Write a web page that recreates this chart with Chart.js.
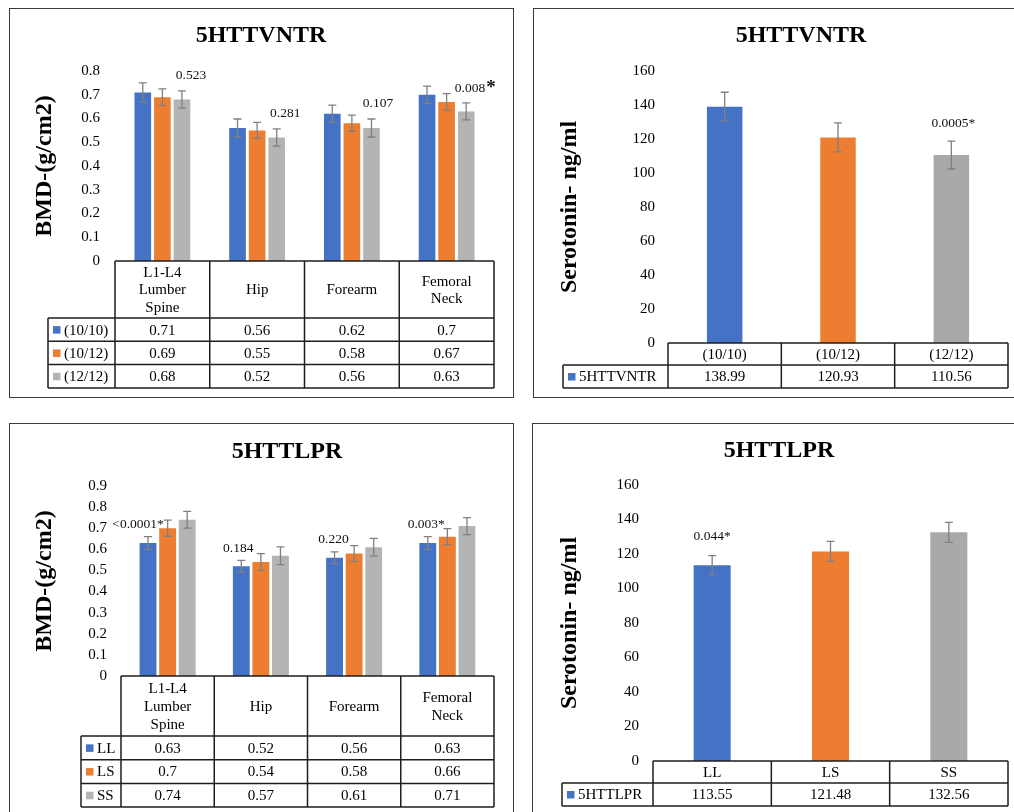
<!DOCTYPE html>
<html><head><meta charset="utf-8">
<script src="https://cdn.jsdelivr.net/npm/chart.js@4.4.1/dist/chart.umd.min.js"></script>
<style>
html,body{margin:0;padding:0;background:#fff}
body{width:1014px;height:812px;overflow:hidden;position:relative}
.panel{position:absolute;border:1.5px solid #3a3a3a;box-sizing:border-box}
canvas{position:absolute}
</style></head><body>
<div class="panel" style="left:9px;top:8px;width:505px;height:390px"></div>
<div class="panel" style="left:533px;top:8px;width:495px;height:390px"></div>
<div class="panel" style="left:9px;top:423px;width:505px;height:410px"></div>
<div class="panel" style="left:532px;top:423px;width:495px;height:410px"></div>
<canvas id="c1" width="502" height="387" style="left:10px;top:9px"></canvas>
<canvas id="c2" width="482" height="387" style="left:534px;top:9px"></canvas>
<canvas id="c3" width="502" height="388" style="left:10px;top:424px"></canvas>
<canvas id="c4" width="483" height="388" style="left:533px;top:424px"></canvas>
<script>
// ---------- data ----------
const boneSites = [['L1-L4', 'Lumber', 'Spine'], 'Hip', 'Forearm', ['Femoral', 'Neck']];
const bmdTicksVntr = [0, 0.1, 0.2, 0.3, 0.4, 0.5, 0.6, 0.7, 0.8];
const bmdTicksLpr = [0, 0.1, 0.2, 0.3, 0.4, 0.5, 0.6, 0.7, 0.8, 0.9];
const serotoninTicks = [0, 20, 40, 60, 80, 100, 120, 140, 160];

const vntrGenotypes = ['(10/10)', '(10/12)', '(12/12)'];
const bmdVntr1010 = [0.71, 0.56, 0.62, 0.7];
const bmdVntr1012 = [0.69, 0.55, 0.58, 0.67];
const bmdVntr1212 = [0.68, 0.52, 0.56, 0.63];
const bmdVntr1010Err = [0.04, 0.038, 0.036, 0.036];
const bmdVntr1012Err = [0.035, 0.034, 0.034, 0.035];
const bmdVntr1212Err = [0.036, 0.036, 0.038, 0.036];
const bmdVntrP = ['0.523', '0.281', '0.107', '0.008*'];

const serotoninVntr = [138.99, 120.93, 110.56];
const serotoninVntrErr = [8.5, 8.5, 8.2];
const serotoninVntrP = [null, null, '0.0005*'];

const lprGenotypes = ['LL', 'LS', 'SS'];
const bmdLprLL = [0.63, 0.52, 0.56, 0.63];
const bmdLprLS = [0.7, 0.54, 0.58, 0.66];
const bmdLprSS = [0.74, 0.57, 0.61, 0.71];
const bmdLprLLErr = [0.03, 0.028, 0.028, 0.03];
const bmdLprLSErr = [0.038, 0.04, 0.038, 0.038];
const bmdLprSSErr = [0.04, 0.042, 0.042, 0.04];
const bmdLprP = ['<0.0001*', '0.184', '0.220', '0.003*'];

const serotoninLpr = [113.55, 121.48, 132.56];
const serotoninLprErr = [5.5, 5.8, 5.8];
const serotoninLprP = ['0.044*', null, null];

// ---------- styling ----------
const SERIF = "'Times New Roman', 'Liberation Serif', serif";
const BLUE = '#4472C4', ORANGE = '#ED7D31', GRAY_LIGHT = '#B4B4B4', GRAY_DARK = '#AAA8A8';

// ---------- plugins ----------
const errorBarPlugin = {
  id: 'errorBars',
  afterDatasetsDraw(chart, args, o) {
    const ctx = chart.ctx, y = chart.scales.y;
    ctx.save();
    ctx.strokeStyle = o.color || '#7f7f7f';
    ctx.lineWidth = o.width || 1.3;
    const c = o.cap || 4;
    chart.data.datasets.forEach((ds, di) => {
      if (!ds.errors) return;
      chart.getDatasetMeta(di).data.forEach((bar, i) => {
        const v = ds.data[i], e = ds.errors[i];
        const yt = y.getPixelForValue(v + e), yb = y.getPixelForValue(v - e);
        ctx.beginPath();
        ctx.moveTo(bar.x, yt); ctx.lineTo(bar.x, yb);
        ctx.moveTo(bar.x - c, yt); ctx.lineTo(bar.x + c, yt);
        ctx.moveTo(bar.x - c, yb); ctx.lineTo(bar.x + c, yb);
        ctx.stroke();
      });
    });
    ctx.restore();
  }
};

const pValuePlugin = {
  id: 'pValues',
  afterDatasetsDraw(chart, args, o) {
    if (!o.texts) return;
    const ctx = chart.ctx, y = chart.scales.y;
    const di = o.datasetIndex;
    const ds = chart.data.datasets[di];
    const meta = chart.getDatasetMeta(di);
    const size = o.size || 13.5;
    ctx.save();
    ctx.fillStyle = '#111';
    o.texts.forEach((t, i) => {
      if (!t) return;
      const bar = meta.data[i];
      const top = y.getPixelForValue(ds.data[i] + ds.errors[i]);
      const cx = bar.x + (o.dx ? o.dx[i] : 0), cy = top - o.gap;
      if (o.largeStar && t.endsWith('*')) {
        const main = t.slice(0, -1);
        ctx.font = `${size}px ${SERIF}`;
        const w1 = ctx.measureText(main).width;
        ctx.font = `bold 19px ${SERIF}`;
        const w2 = ctx.measureText('*').width;
        const x0 = cx - (w1 + w2) / 2, bl = cy + size * 0.33;
        ctx.textAlign = 'left'; ctx.textBaseline = 'alphabetic';
        ctx.font = `${size}px ${SERIF}`;
        ctx.fillText(main, x0, bl);
        ctx.font = `bold 19px ${SERIF}`;
        ctx.fillText('*', x0 + w1 + 1, bl + 1);
      } else {
        ctx.font = `${size}px ${SERIF}`;
        ctx.textAlign = 'center'; ctx.textBaseline = 'middle';
        ctx.fillText(t, cx, cy);
      }
    });
    ctx.restore();
  }
};

const dataTablePlugin = {
  id: 'dataTable',
  afterDraw(chart, args, o) {
    const {ctx, chartArea: ca, scales: {x}} = chart;
    const labels = chart.data.labels, n = labels.length;
    const step = (x.right - x.left) / n;
    const cols = Array.from({length: n + 1}, (_, i) => x.left + i * step);
    const top = ca.bottom, hb = top + o.headerHeight;
    const dss = chart.data.datasets;
    const bottom = hb + dss.length * o.rowHeight;
    ctx.save();
    ctx.strokeStyle = '#1e1e1e';
    ctx.lineWidth = 1.5;
    ctx.beginPath();
    ctx.moveTo(x.left, top); ctx.lineTo(x.right, top);
    for (let r = 0; r <= dss.length; r++) {
      const yy = hb + r * o.rowHeight;
      ctx.moveTo(o.legendLeft, yy); ctx.lineTo(x.right, yy);
    }
    cols.forEach(cx => { ctx.moveTo(cx, top); ctx.lineTo(cx, bottom); });
    ctx.moveTo(o.legendLeft, hb); ctx.lineTo(o.legendLeft, bottom);
    ctx.stroke();
    ctx.font = `${o.fontSize}px ${SERIF}`;
    ctx.fillStyle = '#000';
    ctx.textBaseline = 'middle';
    ctx.textAlign = 'center';
    labels.forEach((lab, i) => {
      const lines = Array.isArray(lab) ? lab : [lab];
      const cx = (cols[i] + cols[i + 1]) / 2, cy = (top + hb) / 2 + 1;
      lines.forEach((ln, k) => ctx.fillText(ln, cx, cy + (k - (lines.length - 1) / 2) * o.lineHeight));
    });
    dss.forEach((ds, r) => {
      const cy = hb + (r + 0.5) * o.rowHeight + 1;
      const col = Array.isArray(ds.backgroundColor) ? ds.backgroundColor[0] : ds.backgroundColor;
      ctx.fillStyle = col;
      ctx.fillRect(o.legendLeft + 5, cy - 4.5, 7.5, 7.5);
      ctx.fillStyle = '#000';
      ctx.textAlign = 'left';
      ctx.fillText(ds.label, o.legendLeft + 16, cy);
      ctx.textAlign = 'center';
      ds.data.forEach((v, i) => ctx.fillText(String(v), (cols[i] + cols[i + 1]) / 2, cy));
    });
    ctx.restore();
  }
};

const panelTitlePlugin = {
  id: 'panelTitle',
  afterDraw(chart, args, o) {
    const ctx = chart.ctx;
    ctx.save();
    ctx.font = `bold 24px ${SERIF}`;
    ctx.fillStyle = '#000';
    ctx.textAlign = 'center'; ctx.textBaseline = 'middle';
    ctx.fillText(o.text, o.x, o.y);
    ctx.restore();
  }
};

Chart.register(errorBarPlugin, pValuePlugin, dataTablePlugin, panelTitlePlugin);

function yAxis(ticksArr, title, width, tickPad, titlePad) {
  return {
    min: ticksArr[0], max: ticksArr[ticksArr.length - 1],
    afterBuildTicks: s => { s.ticks = ticksArr.map(v => ({value: v})); },
    afterFit: s => { s.width = width; },
    grid: {display: false, drawTicks: false},
    border: {display: false},
    ticks: {color: '#000', font: {family: SERIF, size: 15}, padding: tickPad, callback: v => String(v)},
    title: {display: true, text: title, color: '#000', font: {family: SERIF, size: 24, weight: 'bold'}, padding: {top: titlePad, bottom: 0}}
  };
}
function xAxis(height) {
  return {
    grid: {display: false, drawTicks: false},
    border: {display: false},
    ticks: {display: false},
    afterFit: s => { s.height = height; }
  };
}
function build(id, data, opts) {
  return new Chart(document.getElementById(id), {
    type: 'bar',
    data,
    options: {
      responsive: false,
      animation: false,
      events: [],
      layout: {padding: opts.padding},
      datasets: {bar: {categoryPercentage: opts.catPct, barPercentage: opts.barPct}},
      scales: {x: xAxis(opts.xHeight), y: yAxis(opts.ticks, opts.yTitle, opts.yWidth, opts.tickPad, opts.titlePad)},
      plugins: {
        legend: {display: false},
        tooltip: {enabled: false},
        panelTitle: opts.title,
        errorBars: {color: '#808080', width: 1.3, cap: 4},
        pValues: opts.pvals,
        dataTable: opts.table
      }
    }
  });
}

// Panel 1: BMD by 5HTTVNTR
build('c1', {
  labels: boneSites,
  datasets: [
    {label: vntrGenotypes[0], data: bmdVntr1010, errors: bmdVntr1010Err, backgroundColor: BLUE},
    {label: vntrGenotypes[1], data: bmdVntr1012, errors: bmdVntr1012Err, backgroundColor: ORANGE},
    {label: vntrGenotypes[2], data: bmdVntr1212, errors: bmdVntr1212Err, backgroundColor: GRAY_LIGHT}
  ]
}, {
  padding: {top: 62, left: 0, right: 18, bottom: 8},
  catPct: 0.62, barPct: 0.85, xHeight: 127,
  ticks: bmdTicksVntr, yTitle: 'BMD-(g/cm2)', yWidth: 105, tickPad: 15, titlePad: 20.5,
  title: {text: '5HTTVNTR', x: 251, y: 27},
  pvals: {texts: bmdVntrP, datasetIndex: 2, gap: 15.5, dx: [9, 8.5, 6.5, 8.5], size: 13.5, largeStar: true},
  table: {headerHeight: 57, rowHeight: 23.3, legendLeft: 38, fontSize: 15, lineHeight: 17.5}
});

// Panel 2: Serotonin by 5HTTVNTR
build('c2', {
  labels: vntrGenotypes,
  datasets: [
    {label: '5HTTVNTR', data: serotoninVntr, errors: serotoninVntrErr, backgroundColor: [BLUE, ORANGE, GRAY_DARK]}
  ]
}, {
  padding: {top: 62, left: 0, right: 8, bottom: 8},
  catPct: 0.313, barPct: 1, xHeight: 45,
  ticks: serotoninTicks, yTitle: 'Serotonin- ng/ml', yWidth: 134, tickPad: 13, titlePad: 21.5,
  title: {text: '5HTTVNTR', x: 267, y: 27},
  pvals: {texts: serotoninVntrP, datasetIndex: 0, gap: 18, dx: [0, 0, 2], size: 13.5},
  table: {headerHeight: 22, rowHeight: 23, legendLeft: 29, fontSize: 15, lineHeight: 17}
});

// Panel 3: BMD by 5HTTLPR
build('c3', {
  labels: boneSites,
  datasets: [
    {label: lprGenotypes[0], data: bmdLprLL, errors: bmdLprLLErr, backgroundColor: BLUE},
    {label: lprGenotypes[1], data: bmdLprLS, errors: bmdLprLSErr, backgroundColor: ORANGE},
    {label: lprGenotypes[2], data: bmdLprSS, errors: bmdLprSSErr, backgroundColor: GRAY_LIGHT}
  ]
}, {
  padding: {top: 62, left: 0, right: 18, bottom: 5},
  catPct: 0.63, barPct: 0.86, xHeight: 131,
  ticks: bmdTicksLpr, yTitle: 'BMD-(g/cm2)', yWidth: 111, tickPad: 14, titlePad: 20.5,
  title: {text: '5HTTLPR', x: 277, y: 28},
  pvals: {texts: bmdLprP, datasetIndex: 0, gap: 12, dx: [-10, -3, -1, -1.5], size: 13.5},
  table: {headerHeight: 60, rowHeight: 23.7, legendLeft: 71, fontSize: 15, lineHeight: 18}
});

// Panel 4: Serotonin by 5HTTLPR
build('c4', {
  labels: lprGenotypes,
  datasets: [
    {label: '5HTTLPR', data: serotoninLpr, errors: serotoninLprErr, backgroundColor: [BLUE, ORANGE, GRAY_DARK]}
  ]
}, {
  padding: {top: 61, left: 0, right: 8, bottom: 6},
  catPct: 0.313, barPct: 1, xHeight: 45,
  ticks: serotoninTicks, yTitle: 'Serotonin- ng/ml', yWidth: 120, tickPad: 14, titlePad: 22.5,
  title: {text: '5HTTLPR', x: 246, y: 27},
  pvals: {texts: serotoninLprP, datasetIndex: 0, gap: 19, dx: [0, 0, 0], size: 13.5},
  table: {headerHeight: 22, rowHeight: 23, legendLeft: 29, fontSize: 15, lineHeight: 17}
});
</script>
</body></html>
